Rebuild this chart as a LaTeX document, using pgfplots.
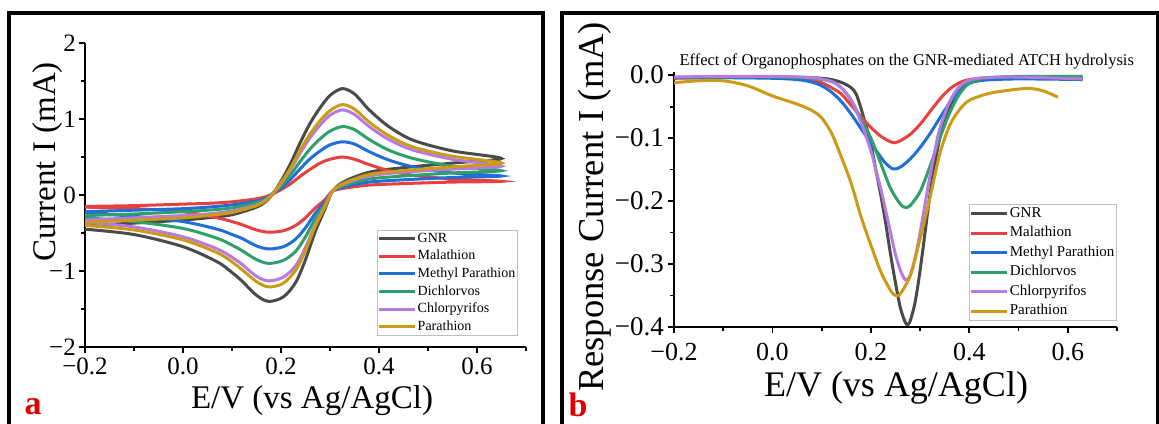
\documentclass[border=0pt]{standalone}
\usepackage{pgfplots}
\pgfplotsset{compat=1.18}
\usepackage{fontspec}
\setmainfont{Liberation Serif}
\definecolor{cGNR}{HTML}{4A4A4A}
\definecolor{cMal}{HTML}{E8403F}
\definecolor{cMP}{HTML}{1F6FD6}
\definecolor{cDic}{HTML}{2EA069}
\definecolor{cChl}{HTML}{B57BE0}
\definecolor{cPar}{HTML}{CC9A14}
\definecolor{labred}{HTML}{E00000}
\pgfplotsset{
  panel/.style={
    scale only axis, anchor=south west,
    axis x line*=bottom, axis y line*=left, axis line style={line width=2.6pt,-},
    xtick pos=bottom, ytick pos=left,
    tick style={black, line width=1.8pt},
    major tick length=6pt, minor tick length=4pt, tick align=outside,
    minor x tick num=1, minor y tick num=1,
    xmin=-0.2, xmax=0.7,
    xtick={-0.2,0,0.2,0.4,0.6},
    xticklabels={−0.2,0.0,0.2,0.4,0.6},
    legend cell align=left,
    legend image code/.code={\draw[##1,line width=3pt] (0pt,0pt) -- (36pt,0pt);},
    every axis plot/.append style={line width=3pt, smooth, tension=0.5},
  }
}
\begin{document}
\begin{tikzpicture}
\draw[line width=3.2pt] (9pt,-5pt) -- (9pt,410pt) -- (543pt,410pt) -- (543pt,-5pt);
\draw[line width=3.2pt] (562pt,-5pt) -- (562pt,410pt) -- (1158pt,410pt) -- (1158pt,-5pt);

% ---------- panel a ----------
\begin{axis}[panel, at={(85pt,76pt)}, width=441pt, height=304pt,
  ymin=-2, ymax=2, ytick={-2,-1,0,1,2}, yticklabels={−2,−1,0,1,2},
  xticklabel style={font=\fontsize{25}{25}\selectfont, inner sep=0pt, yshift=-5pt},
  yticklabel style={font=\fontsize{25}{25}\selectfont, inner sep=0pt, xshift=-3pt},
  legend style={at={(0.662,0.385)}, anchor=north west, draw=gray!50, line width=0.6pt,
    font=\fontsize{14}{14}\selectfont, inner xsep=0pt, inner ysep=2pt, row sep=4.6pt,
    nodes={inner xsep=1.5pt, inner ysep=0pt, text height=10pt, text depth=3pt}},
  after end axis/.code={
    \foreach \t in {-0.2,0,0.2,0.4,0.6} {\draw[line width=1.8pt] (axis cs:\t,-2) -- ++(0pt,-6pt);}
    \foreach \t in {-0.1,0.1,0.3,0.5,0.7} {\draw[line width=1.5pt] (axis cs:\t,-2) -- ++(0pt,-4pt);}
    \foreach \t in {-2,-1,0,1,2} {\draw[line width=1.8pt] (axis cs:-0.2,\t) -- ++(-6pt,0pt);}
    \foreach \t in {-1.5,-0.5,0.5,1.5} {\draw[line width=1.5pt] (axis cs:-0.2,\t) -- ++(-4pt,0pt);}
  },
]
\addplot[cGNR] coordinates {(-0.2,-0.40) (-0.1,-0.37) (0.0,-0.33) (0.05,-0.30) (0.1,-0.26) (0.15,-0.16) (0.17,-0.08) (0.185,0.03) (0.2,0.18) (0.22,0.42) (0.24,0.70) (0.26,0.95) (0.28,1.15) (0.30,1.31) (0.325,1.40) (0.35,1.33) (0.38,1.12) (0.42,0.90) (0.47,0.72) (0.55,0.58) (0.65,0.48)
 (0.55,0.42) (0.45,0.36) (0.38,0.30) (0.33,0.18) (0.305,0.05) (0.29,-0.18) (0.27,-0.48) (0.25,-0.85) (0.23,-1.15) (0.205,-1.34) (0.175,-1.40) (0.15,-1.32) (0.12,-1.13) (0.10,-1.02) (0.07,-0.88) (0.0,-0.68) (-0.1,-0.52) (-0.2,-0.45)};
\addlegendentry{GNR}
\addplot[cMal] coordinates {(-0.2,-0.15) (-0.1,-0.14) (0.0,-0.12) (0.05,-0.11) (0.1,-0.09) (0.15,-0.05) (0.17,-0.02) (0.185,0.02) (0.2,0.07) (0.22,0.15) (0.24,0.25) (0.26,0.34) (0.28,0.42) (0.30,0.47) (0.325,0.50) (0.35,0.47) (0.38,0.40) (0.42,0.32) (0.47,0.26) (0.55,0.21) (0.65,0.18)
 (0.55,0.17) (0.45,0.15) (0.38,0.13) (0.33,0.09) (0.305,0.05) (0.29,-0.06) (0.27,-0.17) (0.25,-0.30) (0.23,-0.40) (0.205,-0.47) (0.175,-0.49) (0.15,-0.46) (0.12,-0.39) (0.10,-0.35) (0.07,-0.30) (0.0,-0.22) (-0.1,-0.18) (-0.2,-0.16)};
\addlegendentry{Malathion}
\addplot[cMP] coordinates {(-0.2,-0.22) (-0.1,-0.20) (0.0,-0.18) (0.05,-0.16) (0.1,-0.13) (0.15,-0.08) (0.17,-0.04) (0.185,0.03) (0.2,0.09) (0.22,0.21) (0.24,0.35) (0.26,0.48) (0.28,0.58) (0.30,0.66) (0.325,0.70) (0.35,0.67) (0.38,0.57) (0.42,0.46) (0.47,0.37) (0.55,0.29) (0.65,0.25)
 (0.55,0.23) (0.45,0.20) (0.38,0.17) (0.33,0.11) (0.305,0.05) (0.29,-0.09) (0.27,-0.24) (0.25,-0.43) (0.23,-0.58) (0.205,-0.68) (0.175,-0.71) (0.15,-0.67) (0.12,-0.57) (0.10,-0.52) (0.07,-0.45) (0.0,-0.35) (-0.1,-0.28) (-0.2,-0.24)};
\addlegendentry{Methyl Parathion}
\addplot[cDic] coordinates {(-0.2,-0.27) (-0.1,-0.25) (0.0,-0.22) (0.05,-0.20) (0.1,-0.17) (0.15,-0.10) (0.17,-0.05) (0.185,0.03) (0.2,0.12) (0.22,0.27) (0.24,0.45) (0.26,0.61) (0.28,0.74) (0.30,0.84) (0.325,0.90) (0.35,0.86) (0.38,0.73) (0.42,0.59) (0.47,0.48) (0.55,0.38) (0.65,0.32)
 (0.55,0.29) (0.45,0.25) (0.38,0.21) (0.33,0.13) (0.305,0.05) (0.29,-0.12) (0.27,-0.31) (0.25,-0.55) (0.23,-0.74) (0.205,-0.86) (0.175,-0.90) (0.15,-0.85) (0.12,-0.73) (0.10,-0.66) (0.07,-0.57) (0.0,-0.44) (-0.1,-0.35) (-0.2,-0.30)};
\addlegendentry{Dichlorvos}
\addplot[cChl] coordinates {(-0.2,-0.33) (-0.1,-0.30) (0.0,-0.27) (0.05,-0.25) (0.1,-0.21) (0.15,-0.13) (0.17,-0.06) (0.185,0.03) (0.2,0.15) (0.22,0.34) (0.24,0.56) (0.26,0.76) (0.28,0.92) (0.30,1.05) (0.325,1.12) (0.35,1.06) (0.38,0.90) (0.42,0.73) (0.47,0.59) (0.55,0.47) (0.65,0.38)
 (0.55,0.34) (0.45,0.30) (0.38,0.25) (0.33,0.15) (0.305,0.05) (0.29,-0.14) (0.27,-0.39) (0.25,-0.69) (0.23,-0.93) (0.205,-1.08) (0.175,-1.13) (0.15,-1.07) (0.12,-0.91) (0.10,-0.82) (0.07,-0.71) (0.0,-0.55) (-0.1,-0.42) (-0.2,-0.36)};
\addlegendentry{Chlorpyrifos}
\addplot[cPar] coordinates {(-0.2,-0.36) (-0.1,-0.33) (0.0,-0.30) (0.05,-0.27) (0.1,-0.23) (0.15,-0.14) (0.17,-0.07) (0.185,0.03) (0.2,0.16) (0.22,0.36) (0.24,0.60) (0.26,0.81) (0.28,0.98) (0.30,1.11) (0.325,1.19) (0.35,1.13) (0.38,0.96) (0.42,0.78) (0.47,0.63) (0.55,0.51) (0.65,0.42)
 (0.55,0.37) (0.45,0.32) (0.38,0.27) (0.33,0.16) (0.305,0.05) (0.29,-0.15) (0.27,-0.41) (0.25,-0.73) (0.23,-0.99) (0.205,-1.16) (0.175,-1.21) (0.15,-1.14) (0.12,-0.98) (0.10,-0.88) (0.07,-0.76) (0.0,-0.59) (-0.1,-0.46) (-0.2,-0.40)};
\addlegendentry{Parathion}
\end{axis}

% ---------- panel b ----------
\begin{axis}[panel, at={(674pt,96pt)}, width=443pt, height=255pt,
  ymin=-0.4, ymax=0.005, ytick={-0.4,-0.3,-0.2,-0.1,0}, yticklabels={−0.4,−0.3,−0.2,−0.1,0.0},
  xticklabel style={font=\fontsize{26}{26}\selectfont, inner sep=0pt, yshift=-10pt},
  yticklabel style={font=\fontsize{27}{27}\selectfont, inner sep=0pt, xshift=-4pt},
  legend style={at={(0.666,0.482)}, anchor=north west, draw=gray!50, line width=0.6pt,
    font=\fontsize{15}{15}\selectfont, inner xsep=0pt, inner ysep=2pt, row sep=5pt,
    nodes={inner xsep=1.5pt, inner ysep=0pt, text height=11pt, text depth=3.5pt}},
  after end axis/.code={
    \foreach \t in {-0.2,0,0.2,0.4,0.6} {\draw[line width=1.8pt] (axis cs:\t,-0.4) -- ++(0pt,-6pt);}
    \foreach \t in {-0.1,0.1,0.3,0.5,0.7} {\draw[line width=1.5pt] (axis cs:\t,-0.4) -- ++(0pt,-4pt);}
    \foreach \t in {-0.4,-0.3,-0.2,-0.1,0} {\draw[line width=1.8pt] (axis cs:-0.2,\t) -- ++(-6pt,0pt);}
    \foreach \t in {-0.35,-0.25,-0.15,-0.05} {\draw[line width=1.5pt] (axis cs:-0.2,\t) -- ++(-4pt,0pt);}
  },
]
\addplot[cGNR] coordinates {(-0.2,-0.004) (-0.1,-0.003) (0.0,-0.003) (0.08,-0.004) (0.12,-0.007) (0.15,-0.015) (0.17,-0.03) (0.19,-0.08) (0.20,-0.11) (0.21,-0.15) (0.22,-0.19) (0.23,-0.235) (0.24,-0.285) (0.25,-0.33) (0.26,-0.37) (0.27,-0.393) (0.275,-0.396) (0.28,-0.39) (0.29,-0.36) (0.30,-0.31) (0.31,-0.25) (0.32,-0.19) (0.33,-0.14) (0.34,-0.10) (0.35,-0.07) (0.36,-0.05) (0.38,-0.025) (0.40,-0.012) (0.43,-0.006) (0.50,-0.004) (0.63,-0.004)};
\addlegendentry{GNR}
\addplot[cMal] coordinates {(-0.2,-0.005) (-0.1,-0.004) (0.0,-0.004) (0.05,-0.005) (0.08,-0.008) (0.10,-0.012) (0.12,-0.02) (0.14,-0.03) (0.16,-0.048) (0.18,-0.066) (0.20,-0.083) (0.22,-0.097) (0.24,-0.106) (0.25,-0.107) (0.26,-0.104) (0.28,-0.094) (0.30,-0.078) (0.32,-0.058) (0.34,-0.038) (0.36,-0.022) (0.38,-0.012) (0.40,-0.007) (0.43,-0.005) (0.50,-0.004) (0.63,-0.004)};
\addlegendentry{Malathion}
\addplot[cMP] coordinates {(-0.2,-0.004) (-0.1,-0.004) (0.0,-0.005) (0.05,-0.007) (0.08,-0.011) (0.10,-0.017) (0.12,-0.027) (0.14,-0.042) (0.16,-0.062) (0.18,-0.085) (0.20,-0.108) (0.22,-0.13) (0.23,-0.14) (0.245,-0.149) (0.26,-0.146) (0.28,-0.133) (0.30,-0.115) (0.32,-0.093) (0.34,-0.068) (0.36,-0.044) (0.38,-0.025) (0.40,-0.013) (0.43,-0.008) (0.50,-0.006) (0.63,-0.007)};
\addlegendentry{Methyl Parathion}
\addplot[cDic] coordinates {(-0.2,-0.003) (0.0,-0.003) (0.08,-0.005) (0.12,-0.01) (0.14,-0.02) (0.16,-0.04) (0.18,-0.07) (0.20,-0.10) (0.22,-0.14) (0.24,-0.18) (0.26,-0.205) (0.27,-0.21) (0.28,-0.207) (0.30,-0.185) (0.32,-0.145) (0.34,-0.10) (0.36,-0.06) (0.38,-0.03) (0.40,-0.013) (0.43,-0.005) (0.50,-0.002) (0.63,-0.002)};
\addlegendentry{Dichlorvos}
\addplot[cChl] coordinates {(-0.2,-0.003) (-0.1,-0.002) (0.0,-0.002) (0.08,-0.004) (0.12,-0.01) (0.14,-0.02) (0.16,-0.04) (0.18,-0.075) (0.20,-0.12) (0.21,-0.15) (0.22,-0.18) (0.23,-0.215) (0.24,-0.25) (0.25,-0.285) (0.26,-0.31) (0.27,-0.325) (0.28,-0.318) (0.29,-0.29) (0.30,-0.25) (0.31,-0.205) (0.32,-0.16) (0.33,-0.12) (0.34,-0.085) (0.36,-0.042) (0.38,-0.018) (0.40,-0.008) (0.43,-0.004) (0.50,-0.003) (0.63,-0.006)};
\addlegendentry{Chlorpyrifos}
\addplot[cPar] coordinates {(-0.2,-0.012) (-0.15,-0.009) (-0.10,-0.009) (-0.05,-0.017) (0.00,-0.033) (0.05,-0.046) (0.08,-0.056) (0.10,-0.068) (0.12,-0.092) (0.14,-0.13) (0.16,-0.172) (0.18,-0.225) (0.20,-0.27) (0.22,-0.312) (0.24,-0.342) (0.25,-0.35) (0.26,-0.347) (0.28,-0.318) (0.30,-0.26) (0.32,-0.195) (0.34,-0.125) (0.36,-0.08) (0.38,-0.055) (0.40,-0.04) (0.44,-0.029) (0.48,-0.024) (0.52,-0.021) (0.55,-0.025) (0.58,-0.035)};
\addlegendentry{Parathion}
\end{axis}

% ---------- labels ----------
\node[rotate=90, anchor=base, font=\fontsize{33}{33}\selectfont] at (55pt,261pt) {Current I (mA)};
\node[anchor=base, font=\fontsize{33}{33}\selectfont] at (312pt,15pt) {E/V (vs Ag/AgCl)};
\node[anchor=base west, text=labred, font=\fontsize{34}{34}\selectfont\bfseries] at (21pt,9pt) {a};
\node[rotate=90, anchor=base, font=\fontsize{36.5}{36.5}\selectfont] at (603pt,216pt) {Response Current I (mA)};
\node[anchor=base, font=\fontsize{36}{36}\selectfont] at (896pt,27pt) {E/V (vs Ag/AgCl)};
\node[anchor=base west, text=labred, font=\fontsize{34}{34}\selectfont\bfseries] at (565pt,6pt) {b};
\node[anchor=base west, font=\fontsize{16.5}{16.5}\selectfont] at (676pt,357pt) {Effect of Organophosphates on the GNR-mediated ATCH hydrolysis};
\pgfresetboundingbox
\useasboundingbox (0pt,0pt) rectangle (1159pt,423pt);
\end{tikzpicture}
\end{document}
